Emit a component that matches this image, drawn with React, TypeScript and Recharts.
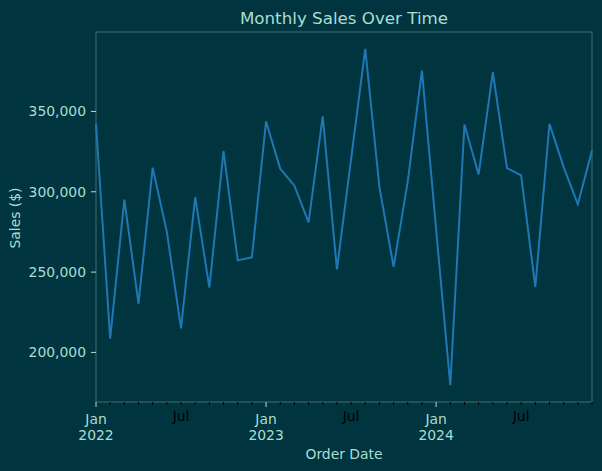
import { LineChart, Line, XAxis, YAxis, ReferenceArea } from 'recharts'

// monthly order totals, Jan 2022 .. Dec 2024
const months = [
  '2022-01', '2022-02', '2022-03', '2022-04', '2022-05', '2022-06',
  '2022-07', '2022-08', '2022-09', '2022-10', '2022-11', '2022-12',
  '2023-01', '2023-02', '2023-03', '2023-04', '2023-05', '2023-06',
  '2023-07', '2023-08', '2023-09', '2023-10', '2023-11', '2023-12',
  '2024-01', '2024-02', '2024-03', '2024-04', '2024-05', '2024-06',
  '2024-07', '2024-08', '2024-09', '2024-10', '2024-11', '2024-12',
]
const sales = [
  342300, 208600, 295100, 230400, 315000, 275000, 214900, 296700, 240300, 325300, 257300, 259200,
  343800, 314400, 303800, 281000, 346900, 251700, 320300, 389000, 302900, 253200, 306500, 375500,
  276600, 179600, 341900, 310800, 374400, 314800, 310200, 240700, 342300, 315400, 292200, 325700,
]
const yTicks = [200000, 250000, 300000, 350000]
const monthNames: Record<string, string> = { '01': 'Jan', '07': 'Jul' }

const data = months.map((m, i) => ({ idx: i, month: m, sales: sales[i] }))

const BG = '#00343f'
const INK = '#a9dfd1'
const SPINE = '#3f6f70'
const FONT = 'DejaVu Sans, sans-serif'

// 5% headroom above and below the data, like matplotlib's autoscale
const lo = Math.min(...sales)
const hi = Math.max(...sales)
const pad = (hi - lo) * 0.05
const yMin = lo - pad
const yMax = hi + pad

function MonthTick({ x, y, payload }: any) {
  const [year, mon] = months[payload.value].split('-')
  const name = monthNames[mon]
  if (mon === '01') {
    return (
      <g>
        <line x1={x} x2={x} y1={y} y2={y + 5} stroke={INK} strokeWidth={1} />
        <text x={x} y={y + 21.5} textAnchor="middle" fill={INK} fontSize={13.9}>{name}</text>
        <text x={x} y={y + 37.5} textAnchor="middle" fill={INK} fontSize={13.9}>{year}</text>
      </g>
    )
  }
  return (
    <g>
      <line x1={x} x2={x} y1={y} y2={y + 3} stroke="#000" strokeWidth={1} />
      {name && (
        <text x={x} y={y + 19} textAnchor="middle" fill="#000" fontSize={13.9}>{name}</text>
      )}
    </g>
  )
}

export default function App() {
  return (
    <div style={{ position: 'absolute', left: 0, top: 0, width: 602, height: 471, background: BG, fontFamily: FONT }}>
      <LineChart width={602} height={471} data={data} margin={{ top: 32, right: 10, bottom: 29, left: 0 }}>
        <XAxis
          dataKey="idx"
          type="number"
          domain={[0, months.length - 1]}
          ticks={months.map((_, i) => i)}
          interval={0}
          height={40}
          axisLine={false}
          tickLine={false}
          tickSize={0}
          tickMargin={0}
          tick={MonthTick}
        />
        <YAxis
          type="number"
          domain={[yMin, yMax]}
          ticks={yTicks}
          width={96}
          axisLine={false}
          tickLine={{ stroke: INK }}
          tickSize={5}
          tickMargin={5}
          tick={{ fill: INK, fontSize: 13.9 }}
          tickFormatter={(v: number) => v.toLocaleString('en-US')}
        />
        <ReferenceArea x1={0} x2={months.length - 1} y1={yMin} y2={yMax} fill="none" stroke={SPINE} strokeWidth={1} />
        <Line type="linear" dataKey="sales" stroke="#1f77b4" strokeWidth={2} dot={false} isAnimationActive={false} />
      </LineChart>
      <svg width={602} height={471} style={{ position: 'absolute', left: 0, top: 0, pointerEvents: 'none' }}>
        <text x={344} y={24} textAnchor="middle" fill={INK} fontSize={16.7}>Monthly Sales Over Time</text>
        <text x={344} y={459} textAnchor="middle" fill={INK} fontSize={13.9}>Order Date</text>
        <text x={20} y={218} textAnchor="middle" fill={INK} fontSize={13.9} transform="rotate(-90 20 218)">Sales ($)</text>
      </svg>
    </div>
  )
}
